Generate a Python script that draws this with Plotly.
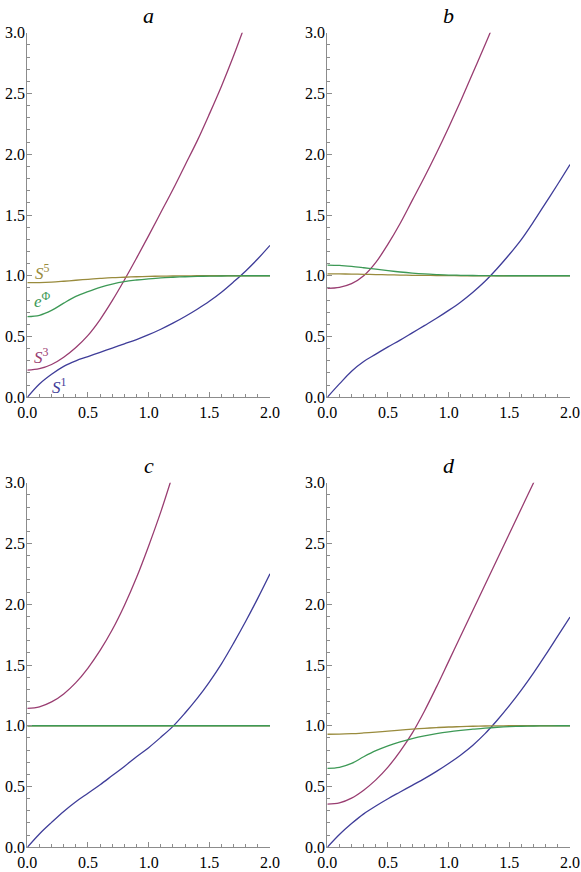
import plotly.graph_objects as go

# gemeinsame x-Werte
x = [0.0, 0.1, 0.2, 0.3, 0.4, 0.5, 0.6, 0.7, 0.8, 0.9, 1.0,
     1.1, 1.2, 1.3, 1.4, 1.5, 1.6, 1.7, 1.8, 1.9, 2.0]

panel_titles = ["a", "b", "c", "d"]

# Panel a
a_s1 = [0.0, 0.11, 0.19, 0.255, 0.3, 0.335, 0.37, 0.405, 0.44, 0.475, 0.515,
        0.56, 0.61, 0.665, 0.725, 0.79, 0.865, 0.95, 1.04, 1.14, 1.25]
a_s3 = [0.223, 0.235, 0.27, 0.33, 0.41, 0.51, 0.64, 0.795, 0.965, 1.145, 1.33,
        1.52, 1.71, 1.91, 2.11, 2.33, 2.56, 2.81, 3.08]
a_s5 = [0.943, 0.944, 0.948, 0.955, 0.963, 0.971, 0.978, 0.984, 0.988, 0.992, 0.995,
        0.997, 0.998, 0.999, 1.0, 1.0, 1.0, 1.0, 1.0, 1.0, 1.0]
a_ephi = [0.664, 0.675, 0.715, 0.775, 0.83, 0.87, 0.905, 0.932, 0.952, 0.965, 0.975,
          0.983, 0.988, 0.992, 0.995, 0.997, 0.998, 0.999, 1.0, 1.0, 1.0]

# Panel b
b_s1 = [0.0, 0.11, 0.215, 0.295, 0.355, 0.415, 0.47, 0.53, 0.59, 0.65, 0.715,
        0.785, 0.865, 0.955, 1.06, 1.175, 1.3, 1.445, 1.6, 1.755, 1.915]
b_s3 = [0.897, 0.905, 0.935, 1.0, 1.11, 1.26, 1.43, 1.62, 1.81, 2.01, 2.22,
        2.44, 2.67, 2.9, 3.14]
b_s5 = [1.015, 1.015, 1.014, 1.012, 1.01, 1.008, 1.006, 1.004, 1.003, 1.002, 1.001,
        1.0, 1.0, 1.0, 1.0, 1.0, 1.0, 1.0, 1.0, 1.0, 1.0]
b_ephi = [1.088, 1.085, 1.077, 1.066, 1.054, 1.042, 1.031, 1.022, 1.015, 1.01, 1.006,
          1.004, 1.002, 1.001, 1.0, 1.0, 1.0, 1.0, 1.0, 1.0, 1.0]

# Panel c
c_s1 = [0.0, 0.11, 0.205, 0.295, 0.375, 0.445, 0.515, 0.59, 0.665, 0.745, 0.82,
        0.905, 0.995, 1.105, 1.225, 1.36, 1.51, 1.68, 1.86, 2.05, 2.25]
c_s3 = [1.143, 1.156, 1.196, 1.262, 1.355, 1.475, 1.62, 1.79, 1.99, 2.22, 2.48,
        2.76, 3.07]
c_s5 = [1.0] * 21
c_ephi = [1.0] * 21

# Panel d
d_s1 = [0.0, 0.105, 0.195, 0.275, 0.34, 0.4, 0.455, 0.51, 0.565, 0.625, 0.69,
        0.76, 0.84, 0.935, 1.045, 1.165, 1.295, 1.435, 1.585, 1.74, 1.895]
d_s3 = [0.356, 0.366, 0.405, 0.47, 0.555, 0.66, 0.79, 0.94, 1.12, 1.32, 1.53,
        1.74, 1.95, 2.16, 2.37, 2.58, 2.79, 3.0, 3.22]
d_s5 = [0.93, 0.931, 0.935, 0.941, 0.948, 0.956, 0.964, 0.972, 0.979, 0.985, 0.99,
        0.993, 0.996, 0.998, 0.999, 1.0, 1.0, 1.0, 1.0, 1.0, 1.0]
d_ephi = [0.65, 0.658, 0.69, 0.745, 0.795, 0.835, 0.868, 0.895, 0.917, 0.935, 0.95,
          0.962, 0.972, 0.981, 0.988, 0.993, 0.996, 0.998, 0.999, 1.0, 1.0]

panels = [
    (a_s1, a_s3, a_s5, a_ephi),
    (b_s1, b_s3, b_s5, b_ephi),
    (c_s1, c_s3, c_s5, c_ephi),
    (d_s1, d_s3, d_s5, d_ephi),
]

# Mathematica-Standardfarben (Hue 0.67 / 0.906 / 0.142 / 0.378, S=V=0.6)
col_s1 = '#3f3d99'
col_s3 = '#993d71'
col_s5 = '#998b3d'
col_ephi = '#3d9956'
axis_gray = '#8c8c8c'
serif = 'Liberation Serif, Times New Roman, Times, DejaVu Serif, serif'

W, H = 581, 872

def px_x(p):
    return p / W

def px_y(p):
    return 1 - p / H

# Plotbereiche in Pixeln (links, rechts, oben, unten)
boxes = [
    (27.3, 270.0, 32.7, 397.3),
    (327.3, 570.0, 32.7, 397.3),
    (27.3, 270.0, 482.7, 847.3),
    (327.3, 570.0, 482.7, 847.3),
]

fig = go.Figure()

for i, (s1, s3, s5, ephi) in enumerate(panels):
    n = '' if i == 0 else str(i + 1)
    xa, ya = 'x' + n, 'y' + n
    for ys, c in [(s1, col_s1), (s3, col_s3), (s5, col_s5), (ephi, col_ephi)]:
        fig.add_trace(go.Scatter(x=x[:len(ys)], y=ys, mode='lines', xaxis=xa, yaxis=ya,
                                 line=dict(color=c, width=1.3, shape='spline'),
                                 showlegend=False, hoverinfo='skip'))

    l, r, t, b = boxes[i]
    common = dict(showline=True, linecolor=axis_gray, linewidth=1, showgrid=False,
                  zeroline=False, ticks='inside', ticklen=5, tickcolor=axis_gray,
                  tickwidth=1, dtick=0.5, tick0=0, tickformat='.1f',
                  tickfont=dict(family=serif, size=16, color='black'),
                  minor=dict(dtick=0.1, ticks='inside', ticklen=3, tickcolor=axis_gray,
                             tickwidth=1, showgrid=False),
                  automargin=False, fixedrange=True)
    fig.update_layout(**{
        'xaxis' + n: dict(domain=[px_x(l), px_x(r)], range=[0, 2], anchor=ya, **common),
        'yaxis' + n: dict(domain=[px_y(b), px_y(t)], range=[0, 3], anchor=xa,
                          ticklabelstandoff=-2, **common),
    })

    # Panel-Titel
    fig.add_annotation(x=px_x((l + r) / 2), y=px_y(t - 17), xref='paper', yref='paper',
                       text='<i>' + panel_titles[i] + '</i>', showarrow=False,
                       font=dict(family=serif, size=22, color='black'),
                       xanchor='center', yanchor='middle')

# Kurvenbeschriftungen in Panel a
labels = [
    ('<i>S</i><sup>5</sup>', 0.045, 1.035, col_s5),
    ('<i>e</i><sup>Φ</sup>', 0.04, 0.8, col_ephi),
    ('<i>S</i><sup>3</sup>', 0.04, 0.34, col_s3),
    ('<i>S</i><sup>1</sup>', 0.185, 0.09, col_s1),
]
for txt, lx, ly, c in labels:
    fig.add_annotation(x=lx, y=ly, xref='x', yref='y', text=txt, showarrow=False,
                       font=dict(family=serif, size=17, color=c),
                       xanchor='left', yanchor='middle')

fig.update_layout(
    width=W, height=H,
    margin=dict(l=0, r=0, t=0, b=0),
    plot_bgcolor='white',
    paper_bgcolor='white',
)

# Standard-Seitenrand (8px) entfernen, damit die Figur bei (0,0) beginnt
fig.write_html("out.html", config={'displayModeBar': False},
               post_script="document.body.style.margin='0px';")
